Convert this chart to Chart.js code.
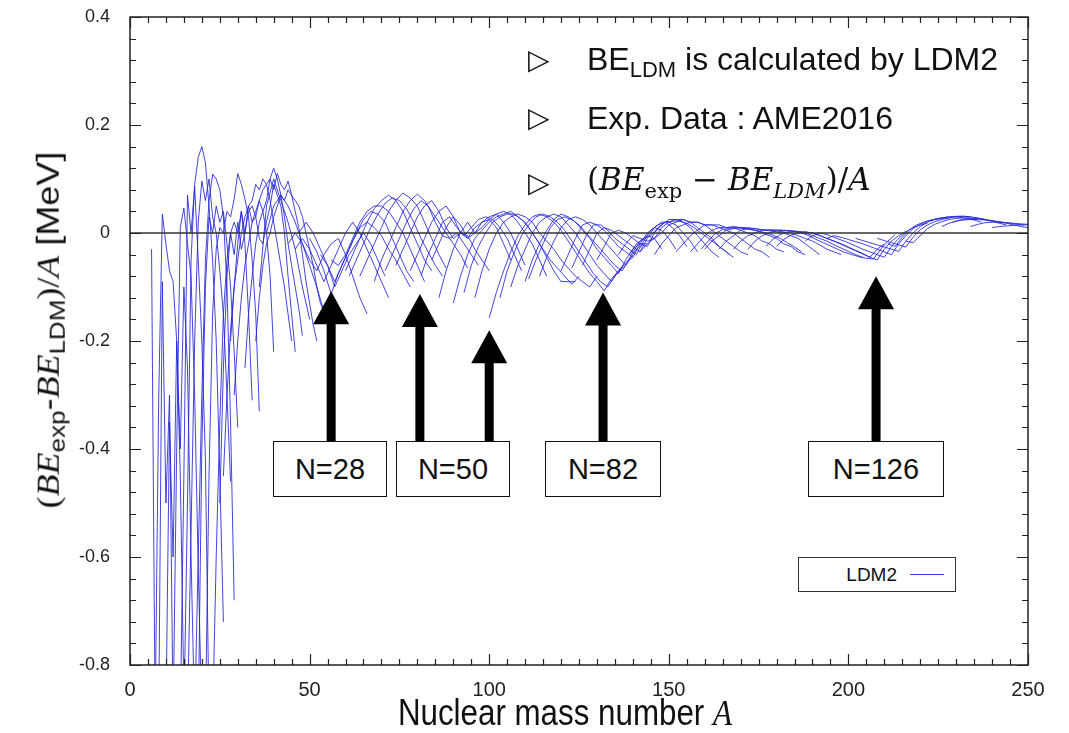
<!DOCTYPE html>
<html>
<head>
<meta charset="utf-8">
<script src="https://cdn.jsdelivr.net/npm/chart.js@4.4.0/dist/chart.umd.min.js"></script>
<style>
    body { margin: 0; background: #fff; }
    #wrap { position: relative; width: 1069px; height: 733px; font-family: 'Liberation Sans', Arial, sans-serif; color: #111; overflow: hidden; }
    #chart { position: absolute; left: 0; top: 0; }
    .box { position: absolute; top: 441px; height: 56px; border: 1.5px solid #111; background: #fff; box-sizing: border-box;
           font-size: 29px; display: flex; align-items: center; justify-content: center; }
    .tri { position: absolute; left: 528px; font-family: 'DejaVu Sans', sans-serif; font-size: 28px; line-height: 30px; }
    .note { position: absolute; left: 587px; font-size: 32px; line-height: 34px; white-space: nowrap; }
    .note sub { font-size: 22px; vertical-align: -7px; line-height: 0; }
    .math { font-family: 'DejaVu Serif', serif; font-size: 31px; }
    .math i { font-style: italic; }
    .math sub { font-size: 21px; vertical-align: -8px; }
    .tm { font-family: 'Liberation Serif', 'Times New Roman', serif; }
    #ytitle { position: absolute; left: 48px; top: 330px; transform: translate(-50%, -50%) rotate(-90deg) scaleY(0.87);
              font-size: 36px; white-space: nowrap; }
    #ytitle sub { font-size: 26px; vertical-align: -7px; line-height: 0; }
    #xtitle { position: absolute; left: 565px; top: 713px; transform: translate(-50%, -50%) scaleX(0.87);
              font-size: 36px; white-space: nowrap; }
    #legend { position: absolute; left: 798px; top: 557px; width: 158px; height: 35px; border: 1.5px solid #333;
              box-sizing: border-box; background: #fff; }
    #legend span { position: absolute; right: 58px; top: 6px; font-size: 19px; }
    #legend i { position: absolute; left: 111px; top: 16px; width: 34px; border-top: 1px solid #3a3ad8; }
</style>
</head>
<body>
<div id="wrap">
    <canvas id="chart" width="1069" height="733"></canvas>

    <div class="tri" style="top: 45px">&#9655;</div>
    <div class="tri" style="top: 103px">&#9655;</div>
    <div class="tri" style="top: 168px">&#9655;</div>
    <div class="note" style="top: 42px">BE<sub>LDM</sub> is calculated by LDM2</div>
    <div class="note" style="top: 101px">Exp. Data : AME2016</div>
    <div class="note math" style="top: 162px">(<i>BE</i><sub>exp</sub> &minus; <i>BE</i><sub><i>LDM</i></sub>)/<i>A</i></div>

    <div class="box" style="left: 273px; width: 114px">N=28</div>
    <div class="box" style="left: 396px; width: 114px">N=50</div>
    <div class="box" style="left: 545px; width: 116px">N=82</div>
    <div class="box" style="left: 808px; width: 136px">N=126</div>

    <div id="legend"><span>LDM2</span><i></i></div>

    <div id="ytitle"><span class="tm">(<i>BE</i></span><sub>exp</sub>-<span class="tm"><i>BE</i></span><sub>LDM</sub><span class="tm">)/<i>A</i></span> [MeV]</div>
    <div id="xtitle">Nuclear mass number <span class="tm"><i>A</i></span></div>
</div>

<script>
// axis labels
const xTickLabels = [0, 50, 100, 150, 200, 250];
const yTickLabels = [-0.8, -0.6, -0.4, -0.2, 0, 0.2, 0.4];

// isotope chains: first A, A step, then (BE_exp - BE_LDM)/A at each A
const lightChains = [
    { start: 6, step: 1, v: [-0.03, -0.9] },
    { start: 7, step: 1, v: [-0.9, -0.3, 0.035, -0.02, -0.07, -0.09, -0.2, -0.45, -0.85] },
    { start: 8, step: 1, v: [-0.9, -0.09, -0.5, -0.3, -0.9] },
    { start: 10, step: 1, v: [-0.9, -0.35, -0.6, -0.2, -0.4, -0.1, -0.25, -0.6, -0.9] },
    { start: 12, step: 1, v: [-0.9, -0.4, 0.01, 0.046, -0.02, -0.08, -0.3, -0.62, -0.9] },
    { start: 14, step: 1, v: [-0.9, -0.45, 0.07, 0.0, 0.087, -0.05, -0.2, -0.42, -0.9] },
    { start: 15, step: 1, v: [-0.9, -0.5, -0.05, 0.09, 0.14, 0.16, 0.13, 0.05, -0.05, -0.2, -0.45, -0.72] },
    { start: 16, step: 1, v: [-0.9, -0.55, -0.2, 0.02, 0.096, 0.06, 0.1, 0.03, 0.0, -0.07, -0.15, -0.3, -0.46] },
    { start: 18, step: 1, v: [-0.9, -0.6, -0.3, -0.05, 0.06, 0.109, 0.1, 0.08, 0.03, -0.1, -0.35, -0.68] },
    { start: 19, step: 1, v: [-0.9, -0.4, -0.1, 0.03, 0.0, 0.05, 0.02, 0.04, -0.02, -0.1, -0.22, -0.36] },
    { start: 21, step: 1, v: [-0.9, -0.45, -0.15, -0.03, 0.01, 0.0, 0.04, 0.03, 0.063, 0.11, 0.09, 0.063, 0.03, -0.05, -0.15, -0.33] },
    { start: 23, step: 1, v: [-0.9, -0.6, -0.35, -0.15, -0.05, 0.0, 0.02, 0.0, 0.04, -0.02, -0.15, -0.31] }
];

const midChains = [
    { start: 25, step: 1, v: [-0.5, -0.25, -0.08, 0.0, -0.04, 0.02, -0.03, 0.0, 0.04, 0.05, 0.03, 0.06, 0.04, 0.0, -0.08, -0.22] },
    { start: 26, step: 1, v: [-0.45, -0.3, -0.18, -0.1, -0.05, 0.0, 0.03, 0.05, 0.06, 0.09, 0.08, 0.1, 0.09, 0.06, 0.02, -0.02, -0.06, -0.1, -0.15, -0.2] },
    { start: 28, step: 1, v: [-0.2, -0.1, -0.02, 0.04, 0.0, 0.05, 0.02, 0.03, -0.01, -0.02, 0.02, 0.05, 0.09, 0.07, 0.05, 0.0, -0.08, -0.15, -0.22] },
    { start: 29, step: 1, v: [-0.3, -0.2, -0.12, -0.06, -0.02, 0.02, 0.04, 0.06, 0.08, 0.09, 0.1, 0.12, 0.1, 0.07, 0.03, -0.02, -0.06, -0.1, -0.14, -0.19] },
    { start: 32, step: 1, v: [-0.25, -0.15, -0.08, -0.02, 0.02, 0.04, 0.06, 0.1, 0.08, 0.11, 0.09, 0.08, 0.096, 0.07, 0.04, 0.01, -0.04, -0.09, -0.13, -0.17, -0.2] },
    { start: 35, step: 1, v: [-0.2, -0.12, -0.06, -0.02, 0.0, 0.03, 0.05, 0.07, 0.06, 0.08, 0.07, 0.06, 0.05, 0.03, 0.0, -0.03, -0.06, -0.1, -0.13, -0.145] }
];

const shellChains = [
    { start: 36, step: 2, v: [-0.1, 0.05, 0.1, 0.06, 0.02, -0.03, -0.1, -0.16] },
    { start: 38, step: 2, v: [0.0, 0.05, 0.07, 0.05, 0.02, -0.02, -0.06, -0.1, -0.145] },
    { start: 44, step: 2, v: [-0.02, 0.0, -0.02, -0.05, -0.07, -0.04, -0.02, -0.01, -0.04, -0.08, -0.12, -0.15] },
    { start: 46, step: 2, v: [-0.03, -0.01, -0.03, -0.06, -0.09, -0.06, -0.03, 0.0, 0.02, 0.0, -0.03, -0.06, -0.09, -0.12] },
    { start: 47, step: 2, v: [0.0, 0.02, 0.0, -0.03, -0.06, -0.1, -0.07, -0.04, -0.02, 0.0, -0.02, -0.05, -0.08] },
    { start: 50, step: 2, v: [-0.01, -0.035, -0.07, -0.113, -0.075, -0.045, -0.015, 0.01, 0.02, 0.01, -0.005, -0.03, -0.05, -0.075, -0.1] },
    { start: 53, step: 2, v: [-0.04, -0.06, -0.09, -0.06, -0.03, 0.0, 0.025, 0.04, 0.035, 0.02, -0.01, -0.04, -0.07, -0.09] },
    { start: 56, step: 2, v: [-0.05, -0.06, -0.04, -0.01, 0.02, 0.04, 0.05, 0.05, 0.04, 0.02, 0.0, -0.03, -0.06, -0.09] },
    { start: 60, step: 2, v: [-0.07, -0.04, -0.01, 0.02, 0.045, 0.06, 0.07, 0.06, 0.04, 0.01, -0.02, -0.05, -0.07] },
    { start: 61, step: 2, v: [-0.08, -0.05, -0.02, 0.01, 0.035, 0.055, 0.065, 0.06, 0.045, 0.02, -0.01, -0.035, -0.06, -0.08] },
    { start: 64, step: 2, v: [-0.08, -0.05, -0.02, 0.01, 0.04, 0.06, 0.074, 0.065, 0.05, 0.02, -0.01, -0.04, -0.065] },
    { start: 68, step: 2, v: [-0.09, -0.05, -0.02, 0.01, 0.04, 0.06, 0.072, 0.06, 0.04, 0.02, 0.0, -0.02, -0.04, -0.065] },
    { start: 71, step: 2, v: [-0.07, -0.04, -0.01, 0.02, 0.045, 0.06, 0.05, 0.02, -0.005, -0.01, 0.0, -0.02, -0.04, -0.06] },
    { start: 74, step: 2, v: [-0.06, -0.03, 0.0, 0.03, 0.05, 0.06, 0.04, 0.01, -0.01, 0.0, -0.005, -0.03, -0.05, -0.07] },
    { start: 78, step: 2, v: [-0.07, -0.04, -0.01, 0.02, 0.04, 0.05, 0.03, 0.0, -0.01, 0.01, 0.02, 0.025, 0.01, -0.02, -0.05] },
    { start: 81, step: 2, v: [-0.08, -0.04, -0.01, 0.02, 0.03, 0.01, -0.005, 0.01, 0.025, 0.03, 0.025, 0.01, -0.01, -0.04, -0.07] },
    { start: 84, step: 2, v: [-0.05, -0.02, 0.01, 0.03, 0.015, -0.01, 0.0, 0.02, 0.03, 0.035, 0.02, 0.0, -0.03, -0.06] },
    { start: 86, step: 2, v: [-0.12, -0.07, -0.03, 0.0, 0.02, 0.0, 0.01, 0.025, 0.035, 0.04, 0.035, 0.02, 0.0, -0.02, -0.05, -0.08] },
    { start: 90, step: 2, v: [-0.13, -0.08, -0.04, -0.01, 0.005, 0.02, 0.03, 0.035, 0.04, 0.03, 0.02, 0.0, -0.02, -0.045, -0.07, -0.09, -0.09, -0.09] },
    { start: 93, step: 2, v: [-0.11, -0.06, -0.025, 0.0, 0.02, 0.03, 0.035, 0.035, 0.025, 0.01, -0.01, -0.03, -0.05, -0.065, -0.08, -0.095, -0.08] },
    { start: 96, step: 2, v: [-0.12, -0.07, -0.03, 0.0, 0.02, 0.03, 0.035, 0.03, 0.02, 0.0, -0.015, -0.03, -0.05, -0.065, -0.08, -0.09, -0.1, -0.08] },
    { start: 100, step: 2, v: [-0.157, -0.11, -0.07, -0.035, -0.005, 0.015, 0.03, 0.035, 0.03, 0.02, 0.005, -0.015, -0.035, -0.055, -0.075, -0.09, -0.107, -0.085, -0.07, -0.06] }
];

const heavyChains = [
    { start: 103, step: 2, v: [-0.12, -0.07, -0.035, -0.005, 0.015, 0.03, 0.035, 0.03, 0.02, 0.005, -0.015, -0.035, -0.055, -0.075, -0.09, -0.1, -0.08, -0.065] },
    { start: 106, step: 2, v: [-0.1, -0.06, -0.03, 0.0, 0.02, 0.03, 0.035, 0.03, 0.015, 0.0, -0.02, -0.04, -0.06, -0.075, -0.09, -0.07, -0.055, -0.045] },
    { start: 110, step: 2, v: [-0.09, -0.05, -0.02, 0.005, 0.025, 0.035, 0.03, 0.02, 0.005, -0.01, -0.03, -0.045, -0.06, -0.075, -0.05, -0.03, -0.02, -0.02] },
    { start: 111, step: 2, v: [-0.085, -0.05, -0.02, 0.01, 0.025, 0.03, 0.025, 0.015, 0.0, -0.015, -0.03, -0.045, -0.06, -0.07, -0.05, -0.03, -0.02] },
    { start: 114, step: 2, v: [-0.08, -0.045, -0.015, 0.01, 0.025, 0.03, 0.025, 0.015, 0.0, -0.015, -0.03, -0.045, -0.06, -0.035, -0.015, -0.005, -0.01, -0.03] },
    { start: 120, step: 2, v: [-0.07, -0.04, -0.01, 0.015, 0.02, 0.015, 0.005, -0.01, -0.025, -0.035, -0.045, -0.02, 0.0, 0.01, 0.005, -0.01, -0.03] },
    { start: 123, step: 2, v: [-0.065, -0.035, -0.005, 0.015, 0.015, 0.005, -0.01, -0.02, -0.03, -0.04, -0.015, 0.005, 0.015, 0.02, 0.01, -0.005, -0.025] },
    { start: 126, step: 2, v: [-0.06, -0.03, 0.0, 0.01, 0.005, -0.005, -0.015, -0.025, -0.035, -0.01, 0.01, 0.02, 0.02, 0.015, 0.0, -0.015, -0.035] },
    { start: 130, step: 2, v: [-0.05, -0.025, 0.0, 0.005, 0.0, -0.01, -0.02, -0.025, 0.0, 0.015, 0.025, 0.025, 0.02, 0.01, -0.005, -0.02, -0.035, -0.045] },
    { start: 136, step: 2, v: [-0.04, -0.02, -0.005, -0.01, -0.015, -0.01, 0.01, 0.02, 0.025, 0.025, 0.02, 0.01, 0.0, -0.01, -0.025, -0.035, -0.045] },
    { start: 139, step: 2, v: [-0.04, -0.02, -0.01, -0.005, 0.01, 0.02, 0.022, 0.022, 0.018, 0.01, 0.0, -0.01, -0.02, -0.03, -0.04] },
    { start: 142, step: 2, v: [-0.035, -0.02, -0.01, 0.0, 0.015, 0.02, 0.025, 0.02, 0.02, 0.015, 0.005, -0.005, -0.015, -0.025, -0.035, -0.04] },
    { start: 146, step: 2, v: [-0.04, -0.02, -0.005, 0.01, 0.015, 0.02, 0.02, 0.015, 0.015, 0.01, 0.005, 0.0, -0.01, -0.02, -0.03, -0.035, -0.045] },
    { start: 152, step: 2, v: [-0.035, -0.02, -0.005, 0.005, 0.015, 0.015, 0.015, 0.01, 0.01, 0.005, 0.0, -0.005, -0.015, -0.02, -0.03, -0.035] },
    { start: 156, step: 2, v: [-0.035, -0.02, -0.005, 0.005, 0.01, 0.01, 0.012, 0.01, 0.008, 0.005, 0.0, -0.005, -0.01, -0.02, -0.025, -0.035, -0.04] },
    { start: 159, step: 2, v: [-0.03, -0.015, 0.0, 0.006, 0.009, 0.01, 0.008, 0.006, 0.004, 0.0, -0.004, -0.01, -0.018, -0.026, -0.035] },
    { start: 160, step: 2, v: [-0.03, -0.015, -0.005, 0.005, 0.008, 0.01, 0.01, 0.008, 0.006, 0.004, 0.002, 0.0, -0.005, -0.01, -0.02, -0.03, -0.04] },
    { start: 164, step: 2, v: [-0.03, -0.015, -0.005, 0.005, 0.008, 0.008, 0.006, 0.005, 0.004, 0.002, 0.0, -0.005, -0.01, -0.015, -0.022, -0.03, -0.035, -0.04] },
    { start: 168, step: 2, v: [-0.03, -0.015, -0.005, 0.0, 0.005, 0.006, 0.006, 0.005, 0.004, 0.002, 0.0, -0.005, -0.01, -0.015, -0.022, -0.028, -0.034, -0.04, -0.045] },
    { start: 172, step: 2, v: [-0.03, -0.015, -0.005, 0.0, 0.004, 0.005, 0.004, 0.003, 0.002, 0.0, -0.005, -0.01, -0.015, -0.02, -0.026, -0.032, -0.038, -0.045, -0.03, -0.02] },
    { start: 177, step: 2, v: [-0.025, -0.012, -0.003, 0.002, 0.003, 0.0, -0.005, -0.012, -0.018, -0.024, -0.03, -0.036, -0.04, -0.044, -0.047, -0.048, -0.03, -0.015, -0.003] },
    { start: 180, step: 2, v: [-0.025, -0.012, -0.004, 0.0, 0.002, 0.0, -0.004, -0.01, -0.015, -0.021, -0.027, -0.033, -0.039, -0.045, -0.05, -0.03, -0.015, -0.005, 0.003] },
    { start: 188, step: 2, v: [-0.015, -0.005, 0.0, -0.003, -0.008, -0.013, -0.018, -0.024, -0.03, -0.035, -0.04, -0.045, -0.025, -0.01, 0.002, 0.01, 0.015, 0.018] },
    { start: 194, step: 2, v: [-0.01, -0.005, -0.008, -0.012, -0.016, -0.02, -0.025, -0.03, -0.035, -0.04, -0.02, -0.005, 0.008, 0.016, 0.022, 0.025, 0.027, 0.028] },
    { start: 202, step: 2, v: [-0.01, -0.014, -0.018, -0.022, -0.026, -0.03, -0.034, -0.015, 0.0, 0.012, 0.02, 0.025, 0.028, 0.03, 0.031, 0.031, 0.03] },
    { start: 208, step: 2, v: [-0.01, -0.014, -0.018, -0.022, -0.026, -0.008, 0.006, 0.015, 0.021, 0.025, 0.028, 0.03, 0.031, 0.03, 0.028, 0.025] },
    { start: 211, step: 2, v: [-0.02, -0.025, -0.008, 0.006, 0.015, 0.02, 0.024, 0.027, 0.029, 0.03, 0.029, 0.027, 0.024, 0.02] },
    { start: 216, step: 2, v: [-0.015, -0.018, -0.005, 0.008, 0.016, 0.021, 0.025, 0.027, 0.028, 0.028, 0.027, 0.025, 0.022, 0.018, 0.015] },
    { start: 226, step: 2, v: [0.012, 0.018, 0.022, 0.024, 0.025, 0.025, 0.024, 0.022, 0.02, 0.018, 0.015, 0.012, 0.01] },
    { start: 229, step: 2, v: [0.02, 0.024, 0.026, 0.027, 0.026, 0.024, 0.022, 0.02, 0.018, 0.016, 0.015] },
    { start: 234, step: 2, v: [0.012, 0.016, 0.019, 0.02, 0.02, 0.019, 0.018, 0.017, 0.016, 0.015] },
    { start: 240, step: 2, v: [0.01, 0.012, 0.013, 0.014, 0.015, 0.015, 0.016] }
];

// shell closure arrows: A position, tip value
const arrowA = [56, 80.7, 100, 131.7, 207.7];
const arrowTip = [-0.108, -0.113, -0.18, -0.11, -0.08];
const arrowBase = -0.387;

const lineColor = 'rgba(35, 35, 215, 0.85)';

function toPoints(chain) {
    return chain.v.map((val, i) => ({ x: chain.start + i * chain.step, y: val }));
}

function isLabel(list, value) {
    return list.some(l => Math.abs(l - value) < 1e-6);
}

const frame = {
    id: 'frame',
    afterDatasetsDraw(chart) {
        const { ctx, chartArea: { left, right, top, bottom }, scales: { x, y } } = chart;
        ctx.save();

        // zero line
        const y0 = y.getPixelForValue(0);
        ctx.strokeStyle = '#333';
        ctx.lineWidth = 1.5;
        ctx.beginPath();
        ctx.moveTo(left, y0);
        ctx.lineTo(right, y0);
        ctx.stroke();

        // inward ticks on all four sides
        ctx.strokeStyle = '#222';
        ctx.lineWidth = 1.2;
        ctx.beginPath();
        x.ticks.forEach(t => {
            const px = Math.round(x.getPixelForValue(t.value)) + 0.5;
            const len = isLabel(xTickLabels, t.value) ? 11 : 6;
            ctx.moveTo(px, bottom); ctx.lineTo(px, bottom - len);
            ctx.moveTo(px, top); ctx.lineTo(px, top + len);
        });
        y.ticks.forEach(t => {
            const py = Math.round(y.getPixelForValue(t.value)) + 0.5;
            const len = isLabel(yTickLabels, t.value) ? 11 : 6;
            ctx.moveTo(left, py); ctx.lineTo(left + len, py);
            ctx.moveTo(right, py); ctx.lineTo(right - len, py);
        });
        ctx.stroke();

        ctx.lineWidth = 1.5;
        ctx.strokeRect(left, top, right - left, bottom - top);

        // arrows
        ctx.fillStyle = '#000';
        arrowA.forEach((a, i) => {
            const px = x.getPixelForValue(a);
            const tip = y.getPixelForValue(arrowTip[i]);
            const base = y.getPixelForValue(arrowBase);
            const headH = 33, headW = 18, shaftW = 4.5;
            ctx.beginPath();
            ctx.moveTo(px, tip);
            ctx.lineTo(px + headW, tip + headH);
            ctx.lineTo(px + shaftW, tip + headH);
            ctx.lineTo(px + shaftW, base);
            ctx.lineTo(px - shaftW, base);
            ctx.lineTo(px - shaftW, tip + headH);
            ctx.lineTo(px - headW, tip + headH);
            ctx.closePath();
            ctx.fill();
        });
        ctx.restore();
    }
};

document.addEventListener('DOMContentLoaded', () => {
    const chains = [...lightChains, ...midChains, ...shellChains, ...heavyChains];
    const datasets = chains.map(c => ({
        data: toPoints(c),
        borderColor: lineColor,
        borderWidth: 1,
        pointRadius: 0,
        fill: false,
        tension: 0
    }));

    new Chart(document.getElementById('chart'), {
        type: 'line',
        data: { datasets },
        options: {
            responsive: false,
            animation: false,
            devicePixelRatio: 1,
            layout: { padding: { top: 17, right: 41, left: 0, bottom: 0 } },
            plugins: { legend: { display: false }, tooltip: { enabled: false } },
            scales: {
                x: {
                    type: 'linear',
                    min: 0,
                    max: 250,
                    grid: { display: false },
                    border: { display: false },
                    afterFit: s => { s.height = 68; s.paddingLeft = 0; s.paddingRight = 0; },
                    ticks: {
                        stepSize: 5,
                        autoSkip: false,
                        maxRotation: 0,
                        padding: 5,
                        color: '#222',
                        font: { family: 'Liberation Sans', size: 20 },
                        callback: v => isLabel(xTickLabels, v) ? String(Math.round(v)) : ''
                    }
                },
                y: {
                    min: -0.8,
                    max: 0.4,
                    grid: { display: false },
                    border: { display: false },
                    afterFit: s => { s.width = 130; s.paddingTop = 0; s.paddingBottom = 0; },
                    ticks: {
                        stepSize: 0.04,
                        autoSkip: false,
                        padding: 12,
                        color: '#222',
                        font: { family: 'Liberation Sans', size: 18 },
                        callback: v => isLabel(yTickLabels, v) ? String(Math.round(v * 10) / 10) : ''
                    }
                }
            }
        },
        plugins: [frame]
    });
});
</script>
</body>
</html>
